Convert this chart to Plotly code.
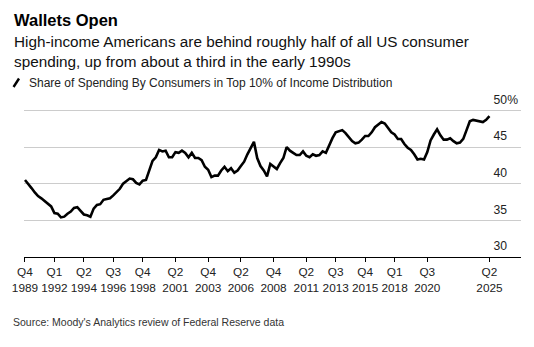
import plotly.graph_objects as go

# ---- Data ----
start_year, start_q = 1989, 4
share_top10 = [
    40.5, 40.0, 39.4, 38.8, 38.3, 38.0, 37.6, 37.3, 36.9, 36.0,
    35.9, 35.4, 35.5, 35.9, 36.2, 36.7, 36.8, 36.3, 35.8, 35.7,
    35.5, 36.6, 37.1, 37.2, 37.8, 37.9, 38.0, 38.4, 38.8, 39.3,
    40.0, 40.4, 40.7, 40.6, 40.1, 39.9, 40.4, 40.5, 41.8, 43.1,
    43.6, 44.6, 44.4, 44.5, 43.6, 43.6, 44.3, 44.2, 44.5, 44.2,
    43.6, 44.2, 43.5, 43.5, 43.2, 42.3, 41.9, 40.9, 41.1, 41.1,
    41.8, 42.3, 41.7, 42.1, 41.5, 41.8, 42.4, 43.0, 44.0, 44.9,
    45.7, 43.5, 42.4, 41.8, 41.0, 42.7, 42.3, 42.0, 42.8, 43.5,
    45.0, 44.5, 44.2, 43.9, 43.9, 44.4, 43.8, 43.6, 44.0, 43.8,
    43.9, 44.4, 44.2, 45.3, 46.2, 47.0, 47.2, 47.3, 46.9, 46.4,
    45.8, 45.5, 45.6, 46.0, 46.5, 46.5, 47.0, 47.7, 48.1, 48.4,
    48.2, 47.6, 47.0, 46.7, 46.1, 46.1, 45.4, 44.9, 44.6, 44.0,
    43.3, 43.4, 43.3, 44.3, 45.9, 46.7, 47.4, 46.6, 46.0, 46.0,
    46.2, 45.8, 45.5, 45.6, 46.1, 47.3, 48.5, 48.7, 48.6, 48.5,
    48.4, 48.7, 49.2,
]
quarters = []
y, q = start_year, start_q
for _ in share_top10:
    quarters.append(f"Q{q} {y}")
    q += 1
    if q > 4:
        q, y = 1, y + 1

tick_quarters = ["Q4 1989", "Q1 1992", "Q2 1994", "Q3 1996", "Q4 1998",
                 "Q2 2001", "Q4 2003", "Q2 2006", "Q4 2008", "Q2 2011",
                 "Q3 2013", "Q4 2015", "Q1 2018", "Q3 2020", "Q2 2025"]
y_ticks = [30, 35, 40, 45, 50]
y_ticktext = ["30", "35", "40", "45", "50%"]

title = "<b>Wallets Open</b>"
subtitle = ("High-income Americans are behind roughly half of all US consumer<br>"
            "spending, up from about a third in the early 1990s")
series_name = "Share of Spending By Consumers in Top 10% of Income Distribution"
source = "Source: Moody's Analytics review of Federal Reserve data"

# ---- Layout geometry ----
W, H = 534, 347
L, R, T, B = 22, 13, 92, 90
PW, PH = W - L - R, H - T - B
FONT = "Liberation Sans, Arial, Helvetica, sans-serif"
X_START = -0.3
PX_PER_Q = 3.284

def fx(px):
    return (px - L) / PW

def fy(py):
    return (H - B - py) / PH

HIDE = "<span style='color:rgba(0,0,0,0)'>%</span>"
ytext = [t if t.endswith("%") else t + HIDE for t in y_ticktext]

fig = go.Figure()
fig.add_trace(go.Scatter(
    x=quarters, y=share_top10, mode="lines",
    line=dict(color="#000000", width=2.6, shape="linear"),
    name=series_name, showlegend=False, hoverinfo="skip",
))

fig.update_layout(
    width=W, height=H,
    margin=dict(l=L, r=R, t=T, b=B, pad=0),
    paper_bgcolor="white", plot_bgcolor="white",
    font=dict(family=FONT, color="#000000"),
    showlegend=False,
    xaxis=dict(
        type="category",
        range=[X_START, X_START + PW / PX_PER_Q],
        tickmode="array",
        tickvals=tick_quarters,
        ticktext=[t.replace(" ", "<br>") for t in tick_quarters],
        ticks="outside", ticklen=4, tickwidth=1, tickcolor="#000000",
        showline=True, linecolor="#000000", linewidth=1,
        showgrid=False, zeroline=False,
        tickfont=dict(size=11.8, color="#222222", family=FONT),
        fixedrange=True,
    ),
    yaxis=dict(
        side="right",
        range=[30, 52.5],
        tickmode="array",
        tickvals=y_ticks,
        ticktext=ytext,
        ticklabelposition="inside",
        ticklabelshift=-11,
        ticks="",
        showgrid=True, gridcolor="#cccccc", gridwidth=1,
        showline=False, zeroline=False,
        tickfont=dict(size=12.2, color="#222222", family=FONT),
        fixedrange=True,
    ),
)

annotations = [
    dict(text=title, x=fx(10), y=fy(20), xanchor="left", yanchor="middle",
         font=dict(size=16.5, color="#000000", family=FONT)),
    dict(text=subtitle, x=fx(10), y=fy(51.5), xanchor="left", yanchor="middle",
         align="left", font=dict(size=15.3, color="#111111", family=FONT)),
    dict(text=series_name, x=fx(25), y=fy(82.5), xanchor="left", yanchor="middle",
         font=dict(size=12, color="#222222", family=FONT)),
    dict(text=source, x=fx(9), y=fy(322), xanchor="left", yanchor="middle",
         font=dict(size=10.5, color="#333333", family=FONT)),
]
for a in annotations:
    a.update(xref="paper", yref="paper", showarrow=False)
fig.update_layout(annotations=annotations)

# legend glyph (diagonal slash)
fig.add_shape(type="line", xref="paper", yref="paper",
              x0=fx(11.5), y0=fy(87), x1=fx(17), y1=fy(78.5),
              line=dict(color="#000000", width=2.4))

fig.write_html("out.html")
